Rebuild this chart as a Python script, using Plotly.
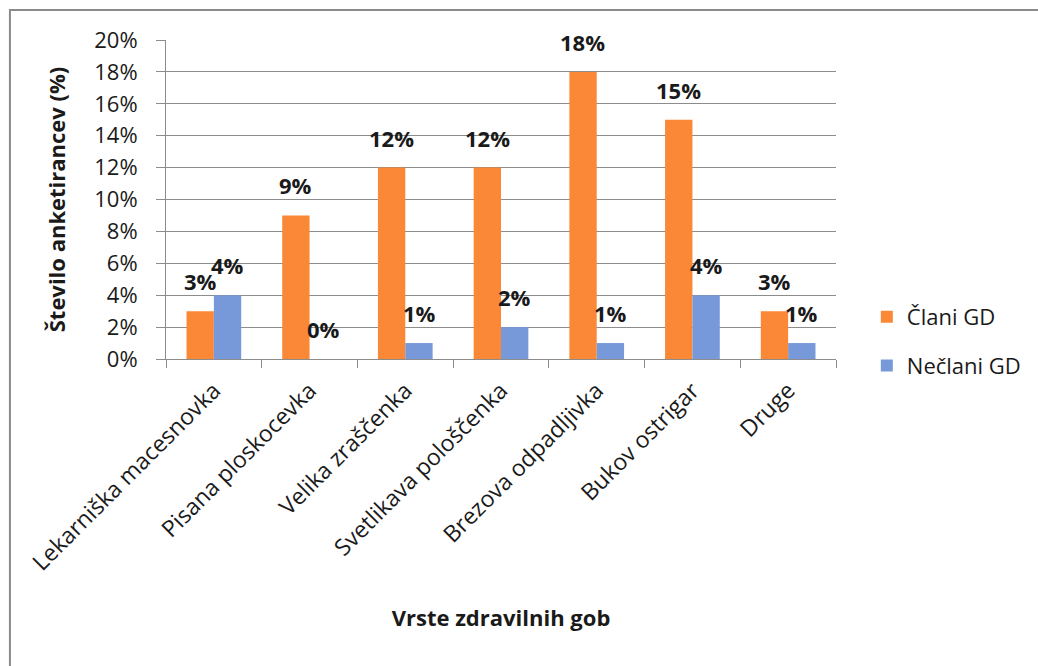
import plotly.graph_objects as go

# Survey shares by mushroom species
categories = [
    "Lekarniška macesnovka",
    "Pisana ploskocevka",
    "Velika zraščenka",
    "Svetlikava pološčenka",
    "Brezova odpadljivka",
    "Bukov ostrigar",
    "Druge",
]
clani_gd = [3, 9, 12, 12, 18, 15, 3]
neclani_gd = [4, 0, 1, 2, 1, 4, 1]
series_names = ["Člani GD", "Nečlani GD"]
y_ticks = [0, 2, 4, 6, 8, 10, 12, 14, 16, 18, 20]
y_tick_labels = [f"{v}%" for v in y_ticks]

ORANGE = "#FA8837"
BLUE = "#7799D9"
GRID = "#8C8C8C"
FONT = "Open Sans"
TEXT = "#1a1a1a"

W, H = 1038, 666
ML, MR, MT, MB = 166, 198, 40, 307
plot_w = W - ML - MR
plot_h = H - MT - MB


def px_to_paper_x(px):
    return (px - ML) / plot_w


def px_to_paper_y(py):
    return (H - MB - py) / plot_h


fig = go.Figure()
fig.add_trace(go.Bar(x=categories, y=clani_gd, name=series_names[0],
                     marker=dict(color=ORANGE, line=dict(width=0)),
                     legendgroup="a"))
fig.add_trace(go.Bar(x=categories, y=neclani_gd, name=series_names[1],
                     marker=dict(color=BLUE, line=dict(width=0)),
                     legendgroup="b"))

# value labels above each bar
bargap = 1.5 / 3.5
bar_px = plot_w / len(categories) * (1 - bargap) / 2
annotations = []
for values, shift in ((clani_gd, -bar_px / 2), (neclani_gd, bar_px / 2)):
    for cat, v in zip(categories, values):
        annotations.append(dict(
            x=cat, y=v, xref="x", yref="y", text=f"<b>{v}%</b>",
            showarrow=False, xanchor="center", yanchor="bottom",
            xshift=shift, yshift=13,
            font=dict(family=FONT, size=22, color=TEXT)))

fig.update_layout(
    width=W, height=H,
    margin=dict(l=ML, r=MR, t=MT, b=MB, pad=0),
    paper_bgcolor="white", plot_bgcolor="white",
    barmode="group", bargap=bargap, bargroupgap=0,
    font=dict(family=FONT, size=22, color=TEXT),
    showlegend=True,
    legend=dict(x=px_to_paper_x(871), xanchor="left",
                y=px_to_paper_y(296), yanchor="top",
                font=dict(family=FONT, size=22, color=TEXT),
                tracegroupgap=17, bgcolor="rgba(0,0,0,0)"),
    annotations=annotations,
    shapes=[dict(type="rect", xref="paper", yref="paper",
                 x0=px_to_paper_x(9), x1=px_to_paper_x(1050),
                 y0=px_to_paper_y(680), y1=px_to_paper_y(10),
                 line=dict(color="#8a8a8a", width=2), layer="below")],
)

fig.update_xaxes(
    type="category", tickangle=-45, tickson="boundaries",
    ticks="outside", ticklen=8, tickcolor=GRID, tickwidth=1,
    showline=True, linecolor=GRID, linewidth=1,
    showgrid=False, ticklabelstandoff=8,
    tickfont=dict(family=FONT, size=23, color=TEXT),
    title=dict(text="<b>Vrste zdravilnih gob</b>", standoff=34,
               font=dict(family=FONT, size=22, color=TEXT)),
)
fig.update_yaxes(
    range=[0, 20], tickvals=y_ticks, ticktext=y_tick_labels,
    ticks="outside", ticklen=9, tickcolor=GRID, tickwidth=1,
    showline=True, linecolor=GRID, linewidth=1,
    showgrid=True, gridcolor=GRID, gridwidth=1, zeroline=False,
    ticklabelstandoff=14,
    tickfont=dict(family=FONT, size=22, color=TEXT),
    title=dict(text="<b>Število anketirancev (%)</b>", standoff=22,
               font=dict(family=FONT, size=22, color=TEXT)),
)

fig.write_html("out.html")
